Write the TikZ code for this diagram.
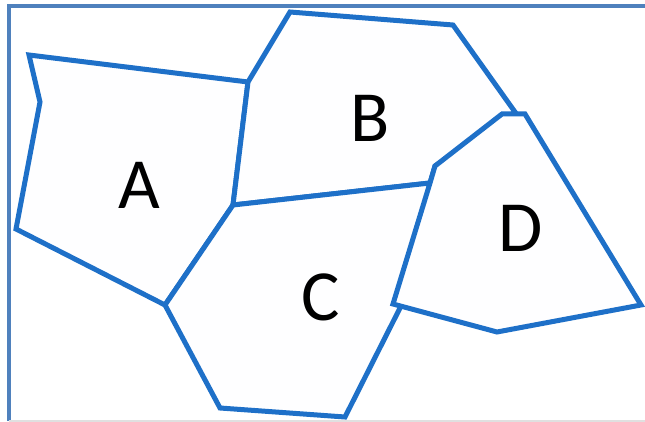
\documentclass[tikz,border=0pt]{standalone}
\usepackage{fontspec}
\setmainfont{Carlito}
\definecolor{edgeblue}{RGB}{30,112,200}
\definecolor{frameblue}{RGB}{79,129,189}
\definecolor{fillc}{RGB}{254,254,255}
\begin{document}
\begin{tikzpicture}[x=1pt,y=-1pt,
  region/.style={draw=edgeblue,fill=fillc,line width=5pt,line join=miter},
  lbl/.style={font=\fontsize{72}{80}\selectfont,inner sep=0pt,text=black}]
\useasboundingbox (0,0) rectangle (645,422);
% frame
\draw[frameblue,line width=3.2pt] (9,421) -- (9,6) -- (646,6);
\draw[black!12,line width=2pt] (9,421) -- (646,421);
% coordinates
\coordinate (a1) at (29,55);
\coordinate (a2) at (40,102);
\coordinate (a3) at (16,229);
\coordinate (j1) at (165,305);
\coordinate (j2) at (233,205);
\coordinate (j3) at (248,82);
\coordinate (b1) at (290,12);
\coordinate (b2) at (453,25);
\coordinate (b3) at (515,112);
\coordinate (d1) at (502,114);
\coordinate (d2) at (525,114);
\coordinate (d3) at (641,305);
\coordinate (d4) at (497,332);
\coordinate (d5) at (393,304);
\coordinate (j4) at (435,166);
\coordinate (j5) at (430,183);
\coordinate (c1) at (400,308);
\coordinate (c2) at (345,417);
\coordinate (c3) at (220,408);
% regions
\draw[region] (a1) -- (a2) -- (a3) -- (j1) -- (j2) -- (j3) -- cycle;
\draw[region] (j3) -- (b1) -- (b2) -- (b3) -- (j4) -- (j5) -- (j2) -- cycle;
\draw[region] (j2) -- (j5) -- (c1) -- (c2) -- (c3) -- (j1) -- cycle;
\draw[region] (j4) -- (d1) -- (d2) -- (d3) -- (d4) -- (d5) -- (j5) -- cycle;
% labels
\node[lbl] (A) at (139,185) {A};
\node[lbl] (B) at (370,118) {B};
\node[lbl] (C) at (321,297) {C};
\node[lbl] (D) at (521,228) {D};
\end{tikzpicture}
\end{document}
